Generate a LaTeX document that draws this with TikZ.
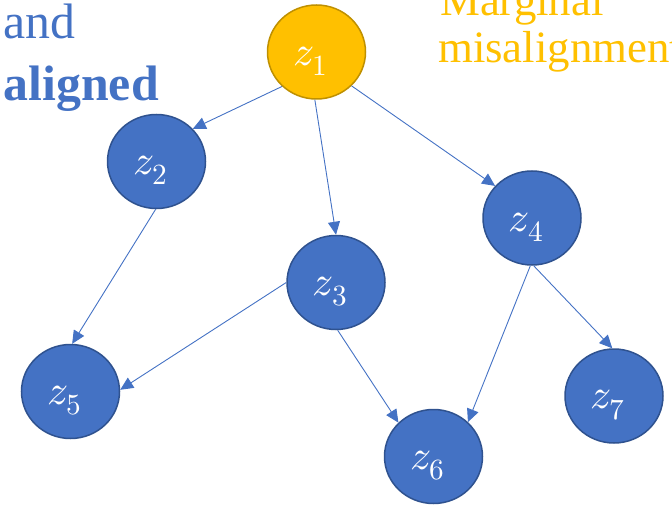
\documentclass[tikz,border=0pt]{standalone}
\usepackage{fontspec}
\usepackage{unicode-math}
\setmainfont{Liberation Serif}
\setmathfont{Latin Modern Math}
\usetikzlibrary{shapes.geometric,arrows.meta}
\definecolor{nblue}{HTML}{4472C4}
\definecolor{nblueb}{HTML}{2F528F}
\definecolor{ngold}{HTML}{FFC000}
\definecolor{ngoldb}{HTML}{BF9000}
\tikzset{
  latent/.style={ellipse, minimum width=98bp, minimum height=94bp, inner sep=0pt,
    fill=nblue, draw=nblueb, line width=1.5bp, text=white},
  goldnode/.style={latent, fill=ngold, draw=ngoldb},
  zlabel/.style={inner sep=0pt, text=white, font=\fontsize{42}{46}\selectfont},
  edge/.style={draw=nblue, line width=0.9bp, -{Triangle[length=13bp,width=12bp]}},
  bluetext/.style={inner sep=0pt, text=nblue, font=\fontsize{50}{56}\selectfont},
  goldtext/.style={inner sep=0pt, text=ngold, font=\fontsize{45}{48}\selectfont}
}
\newcommand{\zlab}[2]{\node[zlabel] (#1l) at ([xshift=-6bp,yshift=-9bp]#1.center) {$z_{#2}$};}
\begin{document}
\begin{tikzpicture}[x=1bp,y=-1bp]
\useasboundingbox (0,0) rectangle (672,505);
\node[latent, goldnode] (z1) at (316.5,52) {};
\node[latent] (z2) at (156.5,161.5) {};
\node[latent] (z3) at (336,282.5) {};
\node[latent] (z4) at (532,218) {};
\node[latent] (z5) at (70.5,391.5) {};
\node[latent] (z6) at (433.5,456.5) {};
\node[latent] (z7) at (614,396) {};
\zlab{z1}{1}
\zlab{z2}{2}
\zlab{z3}{3}
\zlab{z4}{4}
\zlab{z5}{5}
\zlab{z6}{6}
\zlab{z7}{7}

\draw[edge] (z1.225) -- (z2.42);
\draw[edge] (z1.268) -- (z3.90);
\draw[edge] (z1.316) -- (z4.139);
\draw[edge] (z2.269) -- (z5.88);
\draw[edge] (z3.180) -- (z5.2);
\draw[edge] (z3.272) -- (z6.136);
\draw[edge] (z4.268) -- (z6.45);
\draw[edge] (z4.272) -- (z7.92);

\node[bluetext, anchor=base east] (tand) at (76,39) {and};
\node[bluetext, anchor=base east, font=\fontsize{50}{56}\selectfont\bfseries] (taligned) at (159,101) {aligned};
\node[goldtext, anchor=base west] (tmarg) at (440,16) {Marginal};
\node[goldtext, anchor=base west] (tmis) at (438,63) {misalignment};
\end{tikzpicture}
\end{document}
